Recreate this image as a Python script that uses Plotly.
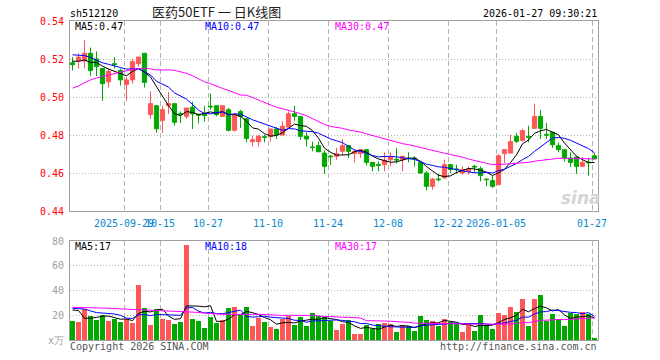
import plotly.graph_objects as go

# ---------------- data ----------------
dates = [
    "2025-09-16", "2025-09-17", "2025-09-18", "2025-09-19", "2025-09-22", "2025-09-23",
    "2025-09-24", "2025-09-25", "2025-09-26", "2025-09-29", "2025-09-30", "2025-10-09",
    "2025-10-10", "2025-10-13", "2025-10-14", "2025-10-15", "2025-10-16", "2025-10-17",
    "2025-10-20", "2025-10-21", "2025-10-22", "2025-10-23", "2025-10-24", "2025-10-27",
    "2025-10-28", "2025-10-29", "2025-10-30", "2025-10-31", "2025-11-03", "2025-11-04",
    "2025-11-05", "2025-11-06", "2025-11-07", "2025-11-10", "2025-11-11", "2025-11-12",
    "2025-11-13", "2025-11-14", "2025-11-17", "2025-11-18", "2025-11-19", "2025-11-20",
    "2025-11-21", "2025-11-24", "2025-11-25", "2025-11-26", "2025-11-27", "2025-11-28",
    "2025-12-01", "2025-12-02", "2025-12-03", "2025-12-04", "2025-12-05", "2025-12-08",
    "2025-12-09", "2025-12-10", "2025-12-11", "2025-12-12", "2025-12-15", "2025-12-16",
    "2025-12-17", "2025-12-18", "2025-12-19", "2025-12-22", "2025-12-23", "2025-12-24",
    "2025-12-25", "2025-12-26", "2025-12-29", "2025-12-30", "2025-12-31", "2026-01-05",
    "2026-01-06", "2026-01-07", "2026-01-08", "2026-01-09", "2026-01-12", "2026-01-13",
    "2026-01-14", "2026-01-15", "2026-01-16", "2026-01-19", "2026-01-20", "2026-01-21",
    "2026-01-22", "2026-01-23", "2026-01-26", "2026-01-27",
]

open_ = [
    0.518, 0.519, 0.519, 0.523, 0.520, 0.515, 0.508, 0.5175, 0.514, 0.5065,
    0.509, 0.5175, 0.523, 0.4907, 0.4954, 0.4877, 0.4954, 0.4965, 0.4912, 0.4898,
    0.4946, 0.4909, 0.4911, 0.4951, 0.4954, 0.4898, 0.4933, 0.4825, 0.4923, 0.4886,
    0.4765, 0.4765, 0.4791, 0.4793, 0.4832, 0.4800, 0.4842, 0.4912, 0.4898, 0.4793,
    0.4737, 0.4744, 0.4705, 0.4689, 0.4688, 0.4714, 0.4744, 0.4702, 0.4702, 0.4723,
    0.4656, 0.4644, 0.4644, 0.4670, 0.4672, 0.4670, 0.4679, 0.4679, 0.4656, 0.4600,
    0.4530, 0.4568, 0.4574, 0.4644, 0.4621, 0.4600, 0.4607, 0.4635, 0.4623, 0.4568,
    0.4560, 0.4539, 0.4702, 0.4705, 0.4793, 0.4772, 0.4792, 0.4835, 0.4898, 0.4803,
    0.4814, 0.4744, 0.4723, 0.4679, 0.4684, 0.4635, 0.4657, 0.4691,
]
high = [
    0.521, 0.523, 0.530, 0.526, 0.524, 0.515, 0.515, 0.521, 0.515, 0.5105,
    0.520, 0.521, 0.523, 0.503, 0.4954, 0.4954, 0.5026, 0.4965, 0.4925, 0.4942,
    0.4975, 0.4912, 0.4954, 0.5018, 0.4954, 0.4954, 0.4942, 0.4916, 0.4933, 0.4886,
    0.4796, 0.4802, 0.4802, 0.4832, 0.4842, 0.4872, 0.4925, 0.4954, 0.4898, 0.4814,
    0.4765, 0.4765, 0.4719, 0.4695, 0.4732, 0.4779, 0.4744, 0.4723, 0.4723, 0.4723,
    0.4656, 0.4661, 0.4709, 0.4709, 0.4732, 0.4688, 0.4709, 0.4688, 0.4656, 0.4609,
    0.4574, 0.4596, 0.4670, 0.4644, 0.4644, 0.4635, 0.4635, 0.4644, 0.4635, 0.4568,
    0.4586, 0.4700, 0.4723, 0.4802, 0.4811, 0.4833, 0.4849, 0.4965, 0.4933, 0.4863,
    0.4814, 0.4761, 0.4723, 0.4709, 0.4684, 0.4684, 0.4679, 0.4705,
]
low = [
    0.514, 0.515, 0.515, 0.511, 0.511, 0.498, 0.505, 0.515, 0.506, 0.498,
    0.507, 0.516, 0.505, 0.4884, 0.4811, 0.4811, 0.4911, 0.4849, 0.4863, 0.4884,
    0.4832, 0.4860, 0.4872, 0.4933, 0.4898, 0.4898, 0.4819, 0.4819, 0.4837, 0.4761,
    0.4740, 0.4740, 0.4761, 0.4765, 0.4779, 0.4800, 0.4842, 0.4875, 0.4775, 0.4740,
    0.4714, 0.4709, 0.4596, 0.4642, 0.4670, 0.4696, 0.4679, 0.4656, 0.4679, 0.4640,
    0.4609, 0.4609, 0.4609, 0.4635, 0.4649, 0.4609, 0.4656, 0.4635, 0.4596, 0.4509,
    0.4512, 0.4556, 0.4568, 0.4600, 0.4596, 0.4591, 0.4591, 0.4600, 0.4556, 0.4530,
    0.4521, 0.4535, 0.4653, 0.4702, 0.4758, 0.4765, 0.4761, 0.4832, 0.4779, 0.4779,
    0.4732, 0.4709, 0.4661, 0.4632, 0.4596, 0.4632, 0.4586, 0.4674,
]
close = [
    0.517, 0.521, 0.523, 0.514, 0.516, 0.507, 0.5135, 0.5172, 0.509, 0.509,
    0.5186, 0.521, 0.5077, 0.4965, 0.4833, 0.4933, 0.4965, 0.4867, 0.4909, 0.4942,
    0.4911, 0.4905, 0.4902, 0.4948, 0.4907, 0.4954, 0.4825, 0.4907, 0.4898, 0.4782,
    0.4775, 0.4793, 0.4788, 0.4832, 0.4800, 0.4846, 0.4912, 0.4898, 0.4793, 0.4779,
    0.4734, 0.4712, 0.4635, 0.4686, 0.4702, 0.4744, 0.4714, 0.4714, 0.4723, 0.4656,
    0.4635, 0.4641, 0.4667, 0.4684, 0.4669, 0.4688, 0.4676, 0.4676, 0.4600, 0.4530,
    0.4568, 0.4565, 0.4644, 0.4618, 0.4618, 0.4618, 0.4621, 0.4632, 0.4586, 0.4565,
    0.4530, 0.4691, 0.4723, 0.4765, 0.4767, 0.4823, 0.4789, 0.4898, 0.4835, 0.4800,
    0.4749, 0.4723, 0.4679, 0.4656, 0.4635, 0.4656, 0.4654, 0.4674,
]
volume = [
    15.6, 14.6, 25.1, 19.7, 16.4, 20.2, 15.4, 17.3, 14.6, 17.3,
    13.7, 44.5, 25.9, 12.1, 25.1, 17.0, 16.4, 12.9, 14.6, 76.8,
    17.0, 15.6, 10.0, 18.9, 14.0, 16.2, 25.9, 26.7, 19.9, 26.7,
    11.3, 18.1, 14.8, 10.8, 8.9, 17.0, 19.7, 12.4, 18.6, 11.6,
    21.8, 19.1, 18.6, 15.4, 8.1, 12.7, 16.2, 4.9, 4.9, 12.1,
    8.6, 12.9, 13.5, 13.2, 6.5, 12.1, 11.1, 7.3, 19.4, 16.2,
    15.4, 11.3, 16.7, 14.8, 13.5, 6.5, 12.1, 7.3, 20.2, 12.1,
    8.9, 21.8, 20.2, 26.7, 22.6, 33.2, 11.3, 33.2, 36.4, 15.6,
    21.0, 17.0, 11.3, 21.8, 21.3, 22.6, 21.3, 1.6,
]

# moving-average values for the days before enough history exists
price_ma5_head = [0.5188, 0.5188, 0.5195, 0.5182]
price_ma10_head = [0.5222, 0.5221, 0.5218, 0.5208, 0.5195, 0.5180, 0.5172, 0.5165, 0.5155]
price_ma30_head = [
    0.5047, 0.5058, 0.5075, 0.5090, 0.5100, 0.5108, 0.5118, 0.5125, 0.5132, 0.5138,
    0.5145, 0.5150, 0.5152, 0.5148, 0.5143, 0.5142, 0.5143, 0.5140, 0.5132, 0.5125,
    0.5112, 0.5095, 0.5080, 0.5070, 0.5056, 0.5045, 0.5035, 0.5022, 0.5010,
]
vol_ma5_head = [24.3, 23.8, 17.6, 17.6]
vol_ma10_head = [25.6, 25.3, 25.0, 23.5, 22.1, 21.8, 21.6, 21.0, 20.0]
vol_ma30_head = [
    26.4, 26.4, 26.2, 26.0, 25.9, 25.8, 25.6, 25.4, 25.2, 25.0,
    24.8, 24.7, 24.5, 24.3, 24.1, 23.9, 23.7, 23.5, 23.3, 23.2,
    22.8, 22.3, 21.8, 21.3, 21.0, 20.8, 20.6, 20.5, 20.4,
]

tick_dates = ["2025-09-29", "2025-10-15", "2025-10-27", "2025-11-10", "2025-11-24",
              "2025-12-08", "2025-12-22", "2026-01-05", "2026-01-27"]
tick_labels = ["2025-09-29", "10-15", "10-27", "11-10", "11-24",
               "12-08", "12-22", "2026-01-05", "01-27"]
price_ticks = [0.44, 0.46, 0.48, 0.50, 0.52, 0.54]
vol_ticks = [0, 20, 40, 60, 80]
vol_tick_labels = ["x万", "20", "40", "60", "80"]

symbol = "sh512120"
title_text = "医药50ETF 一 日K线图"
timestamp = "2026-01-27 09:30:21"
price_ma_labels = ["MA5:0.47", "MA10:0.47", "MA30:0.47"]
vol_ma_labels = ["MA5:17", "MA10:18", "MA30:17"]


def moving_average(values, n, head):
    out = list(head)
    for i in range(len(head), len(values)):
        out.append(sum(values[i - n + 1:i + 1]) / n)
    return out


ma5 = moving_average(close, 5, price_ma5_head)
ma10 = moving_average(close, 10, price_ma10_head)
ma30 = moving_average(close, 30, price_ma30_head)
vma5 = moving_average(volume, 5, vol_ma5_head)
vma10 = moving_average(volume, 10, vol_ma10_head)
vma30 = moving_average(volume, 30, vol_ma30_head)

# ---------------- styling ----------------
RED = "#ff5757"
GREEN = "#00a800"
MONO = "DejaVu Sans Mono"
W, H = 660, 360
L, R, T, B = 70, 62, 21, 20
PW, PH = W - L - R, H - T - B

idx = list(range(len(dates)))
tick_pos = [dates.index(d) - 0.4167 for d in tick_dates]
xr = [-0.4167, len(dates) - 0.4167]
vol_colors = [RED if c > o else GREEN for o, c in zip(open_, close)]


def px_x(p):
    return (p - L) / PW


def px_y(p):
    return (H - B - p) / PH


fig = go.Figure()
fig.add_trace(go.Candlestick(
    x=idx, open=open_, high=high, low=low, close=close,
    increasing=dict(line=dict(color=RED, width=1), fillcolor=RED),
    decreasing=dict(line=dict(color=GREEN, width=1), fillcolor=GREEN),
    whiskerwidth=0, xaxis="x", yaxis="y", hoverinfo="skip",
))
for vals, col in [(ma5, "#000000"), (ma10, "#0000ff"), (ma30, "#ff00ff")]:
    fig.add_trace(go.Scatter(x=idx, y=vals, mode="lines", line=dict(color=col, width=1),
                             xaxis="x", yaxis="y", hoverinfo="skip"))
fig.add_trace(go.Bar(x=idx, y=volume, width=0.833, marker=dict(color=vol_colors, line=dict(width=0)),
                     xaxis="x2", yaxis="y2", hoverinfo="skip"))
for vals, col in [(vma5, "#000000"), (vma10, "#0000ff"), (vma30, "#ff00ff")]:
    fig.add_trace(go.Scatter(x=idx, y=vals, mode="lines", line=dict(color=col, width=1),
                             xaxis="x2", yaxis="y2", hoverinfo="skip"))

price_bottom = px_y(211)
vol_top = px_y(241)

axis_common = dict(showline=True, linecolor="#a0a0a0", linewidth=1, mirror=True,
                   zeroline=False, ticks="", fixedrange=True)

fig.update_layout(
    width=W, height=H,
    margin=dict(l=L, r=R, t=T, b=B),
    paper_bgcolor="white", plot_bgcolor="white",
    showlegend=False, hovermode=False,
    boxgap=0.3, boxgroupgap=0,
    bargap=0,
    xaxis=dict(domain=[0, 1], anchor="y", range=xr, tickmode="array", tickvals=tick_pos,
               ticktext=tick_labels, tickangle=0, showgrid=True, gridcolor="#b4b4b4",
               griddash="5px,3px", gridwidth=1, ticklabelstandoff=3,
               tickfont=dict(family=MONO, size=10, color="#0a88d0"),
               rangeslider=dict(visible=False), **axis_common),
    yaxis=dict(domain=[price_bottom, 1], anchor="x", range=[0.44, 0.54], tickmode="array",
               tickvals=price_ticks, tickformat=".2f", showgrid=True, gridcolor="#b4b4b4",
               griddash="1px,2px", tickfont=dict(family=MONO, size=10, color="#ff0000"),
               ticklabelstandoff=3, **axis_common),
    xaxis2=dict(domain=[0, 1], anchor="y2", range=xr, tickmode="array", tickvals=tick_pos,
                showticklabels=False, showgrid=True, gridcolor="#b4b4b4", griddash="5px,3px",
                gridwidth=1, **axis_common),
    yaxis2=dict(domain=[0, vol_top], anchor="x2", range=[0, 80], tickmode="array",
                tickvals=vol_ticks, ticktext=vol_tick_labels, showgrid=True, gridcolor="#b4b4b4",
                griddash="1px,2px", tickfont=dict(family=MONO, size=10, color="#a0a0a0"),
                ticklabelstandoff=3, **axis_common),
)


def note(text, x, y, anchor="left", color="#000000", size=10, family=MONO, **kw):
    fig.add_annotation(text=text, x=px_x(x), y=px_y(y), xref="paper", yref="paper",
                       xanchor=anchor, yanchor="middle", showarrow=False,
                       font=dict(family=family, size=size, color=color), borderpad=0, **kw)


note(symbol, 69, 13)
note(title_text, 216, 12, anchor="center", color="#222222", size=13, family="Noto Sans CJK SC")
note(timestamp, 598, 13, anchor="right")
ma_cols = ["#000000", "#0000ff", "#ff00ff"]
for lab, xx, col in zip(price_ma_labels, [74, 204, 334], ma_cols):
    note(lab, xx, 27, color=col)
for lab, xx, col in zip(vol_ma_labels, [74, 204, 334], ma_cols):
    note(lab, xx, 247, color=col)
note("Copyright 2026 SINA.COM", 69, 346, color="#555555")
note("http://finance.sina.com.cn", 598, 346, anchor="right", color="#555555")
note("<b><i>sina</i></b>", 581, 198, anchor="center", color="#d4d4d4", size=17, family="DejaVu Sans")

fig.write_html("out.html", config={"displayModeBar": False},
               post_script="document.body.style.margin='0';document.body.style.padding='0';")
